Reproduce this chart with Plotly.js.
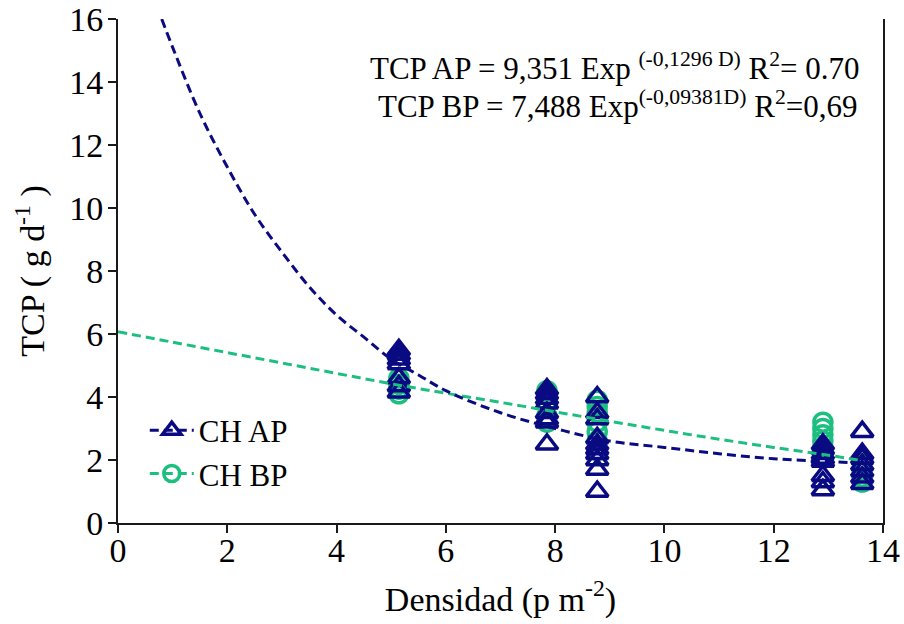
<!DOCTYPE html>
<html>
<head>
<meta charset="utf-8">
<script src="https://cdn.plot.ly/plotly-3.0.1.min.js"></script>
<style>
  html, body { margin: 0; padding: 0; background: #fff; }
  #chart { width: 904px; height: 624px; }
</style>
</head>
<body>
<div id="chart"></div>
<script>
// Plant density (p m-2) and daily growth rate TCP (g d-1), high population (AP)
const apDensity = [
  5.14, 5.14, 5.14, 5.14, 5.14, 5.14, 5.14,
  7.85, 7.85, 7.85, 7.85, 7.85, 7.85, 7.85, 7.85,
  8.77, 8.77, 8.77, 8.77, 8.77, 8.77, 8.77, 8.77, 8.77, 8.77,
  12.9, 12.9, 12.9, 12.9, 12.9, 12.9, 12.9, 12.9,
  13.62, 13.62, 13.62, 13.62, 13.62, 13.62, 13.62
];
const apTcp = [
  5.5, 5.35, 5.2, 5.05, 4.6, 4.35, 4.15,
  4.25, 4.1, 3.95, 3.8, 3.5, 3.3, 3.2, 2.5,
  4.0, 3.5, 3.3, 2.7, 2.5, 2.35, 2.2, 2.0, 1.7, 1.0,
  2.5, 2.35, 2.2, 2.05, 1.95, 1.5, 1.3, 1.05,
  2.9, 2.2, 2.05, 1.85, 1.65, 1.45, 1.25
];

// Low population (BP)
const bpDensity = [
  5.14, 5.14, 5.14, 5.14,
  7.85, 7.85, 7.85, 7.85, 7.85,
  8.77, 8.77, 8.77, 8.77, 8.77, 8.77, 8.77,
  12.9, 12.9, 12.9, 12.9, 12.9,
  13.62, 13.62, 13.62, 13.62
];
const bpTcp = [
  4.6, 4.4, 4.25, 4.1,
  4.2, 4.05, 3.85, 3.4, 3.2,
  3.9, 3.7, 3.5, 3.2, 2.9, 2.6, 2.3,
  3.2, 3.0, 2.8, 2.6, 2.4,
  1.9, 1.65, 1.45, 1.3
];

// Fitted curves, sampled along density
const apFitX = [0.8, 1, 1.5, 2, 2.5, 3, 3.5, 4, 4.5, 5, 5.5, 6, 7, 8, 9, 10, 11, 12, 13, 13.6];
const apFitY = [16.0, 15.1, 13.0, 11.3, 9.8, 8.6, 7.5, 6.6, 5.9, 5.2, 4.7, 4.2, 3.5, 3.0, 2.6, 2.4, 2.2, 2.04, 1.95, 1.9];
const bpFitX = [0, 1, 2, 3, 4, 5, 6, 7, 8, 9, 10, 11, 12, 13, 13.63];
const bpFitY = [6.07, 5.74, 5.41, 5.08, 4.75, 4.42, 4.12, 3.83, 3.53, 3.23, 2.94, 2.66, 2.4, 2.15, 1.97];

const xTicks = [0, 2, 4, 6, 8, 10, 12, 14];
const yTicks = [0, 2, 4, 6, 8, 10, 12, 14, 16];

const NAVY = '#0a0a82';
const GREEN = '#1dbf80';
const FONT = 'Liberation Serif, Times New Roman, serif';

const triMarker = { symbol: 'triangle-up-open', size: 19, color: NAVY, line: { width: 3.5, color: NAVY } };
const circMarker = { symbol: 'circle-open', size: 18, color: GREEN, line: { width: 3.5, color: GREEN } };
const dashStyle = '9px,5px';

const traces = [
  {
    x: bpDensity, y: bpTcp, type: 'scatter', mode: 'markers',
    marker: circMarker, showlegend: false, hoverinfo: 'skip', cliponaxis: false
  },
  {
    x: apDensity, y: apTcp, type: 'scatter', mode: 'markers',
    marker: triMarker, showlegend: false, hoverinfo: 'skip', cliponaxis: false
  },
  {
    x: bpFitX, y: bpFitY, type: 'scatter', mode: 'lines',
    line: { color: GREEN, width: 3, dash: dashStyle, shape: 'spline' },
    showlegend: false, hoverinfo: 'skip'
  },
  {
    x: apFitX, y: apFitY, type: 'scatter', mode: 'lines',
    line: { color: NAVY, width: 3, dash: dashStyle, shape: 'spline' },
    showlegend: false, hoverinfo: 'skip'
  },
  // legend entries
  {
    x: [null], y: [null], type: 'scatter', mode: 'lines+markers', name: 'CH AP', legendgroup: 'ap',
    line: { color: NAVY, width: 3, dash: dashStyle }, marker: triMarker
  },
  {
    x: [null], y: [null], type: 'scatter', mode: 'lines+markers', name: 'CH BP', legendgroup: 'bp',
    line: { color: GREEN, width: 3, dash: dashStyle }, marker: circMarker
  }
];

const axisCommon = {
  showgrid: false, zeroline: false, showline: true,
  linecolor: '#1a1a1a', linewidth: 2,
  ticks: 'outside', ticklen: 8, tickwidth: 2, tickcolor: '#1a1a1a',
  tickfont: { family: FONT, size: 34, color: '#000' }
};

const layout = {
  width: 904, height: 624,
  margin: { l: 118, r: 21, t: 19, b: 101 },
  paper_bgcolor: '#fff', plot_bgcolor: '#fff',
  font: { family: FONT, color: '#000' },
  xaxis: Object.assign({}, axisCommon, {
    range: [0, 14], tickvals: xTicks, ticktext: xTicks.map(String),
    ticklabelstandoff: -12,
    title: { text: 'Densidad (p m<sup>-2</sup>)', font: { family: FONT, size: 34, color: '#000' }, standoff: 19 }
  }),
  yaxis: Object.assign({}, axisCommon, {
    range: [0, 16], tickvals: yTicks, ticktext: yTicks.map(String),
    ticklabelstandoff: -2,
    mirror: true,
    title: { text: 'TCP ( g d<sup>-1</sup> )', font: { family: FONT, size: 34, color: '#000' }, standoff: 14 }
  }),
  legend: {
    x: 0.035, y: 0.237, xanchor: 'left', yanchor: 'top',
    bgcolor: 'rgba(0,0,0,0)', borderwidth: 0,
    font: { family: FONT, size: 31, color: '#000' },
    itemwidth: 44,
    traceorder: 'grouped', tracegroupgap: 0
  },
  annotations: [
    {
      xref: 'paper', yref: 'paper', x: 0.972, y: 0.905, xanchor: 'right', yanchor: 'middle',
      showarrow: false, font: { family: FONT, size: 31, color: '#000' },
      text: 'TCP AP = 9,351 Exp <sup>(-0,1296 D)</sup> R<sup>2</sup>= 0.70'
    },
    {
      xref: 'paper', yref: 'paper', x: 0.968, y: 0.83, xanchor: 'right', yanchor: 'middle',
      showarrow: false, font: { family: FONT, size: 31, color: '#000' },
      text: 'TCP BP = 7,488 Exp<sup>(-0,09381D)</sup> R<sup>2</sup>=0,69'
    }
  ]
};

Plotly.newPlot('chart', traces, layout, { staticPlot: true, displayModeBar: false });
</script>
</body>
</html>
